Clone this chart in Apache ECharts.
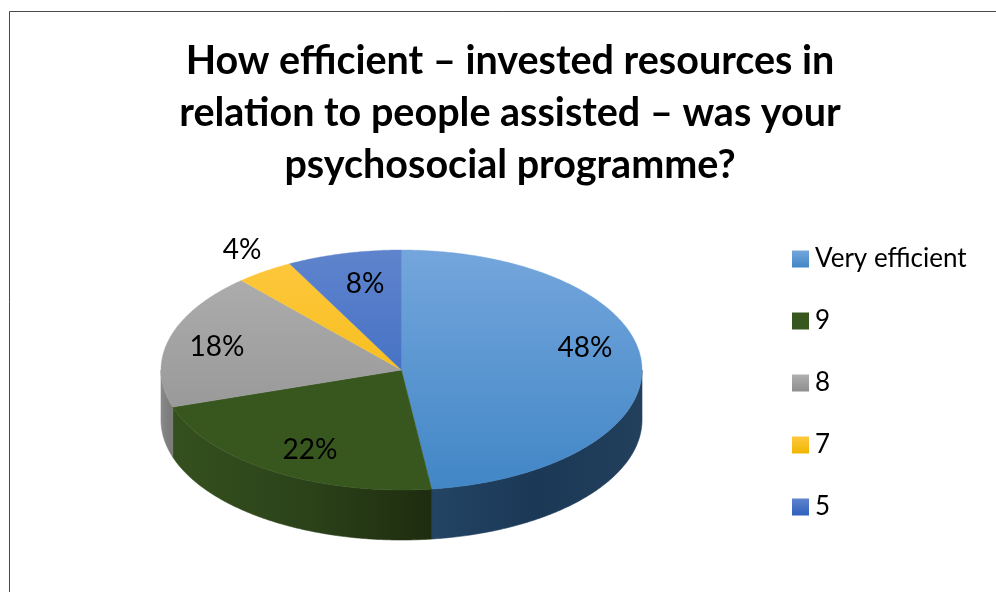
<!DOCTYPE html>
<html><head><meta charset="utf-8">
<style>html,body{margin:0;padding:0;background:#fff}#c{width:996px;height:592px}</style>
<script src="https://cdn.jsdelivr.net/npm/echarts@6/dist/echarts.min.js"></script>
</head><body><div id="c"></div>
<script>
const titleLines = ['How efficient – invested resources in','relation to people assisted – was your','psychosocial programme?'];
const categories = ['Very efficient','9','8','7','5'];
const values = [48, 22, 18.4, 3.9, 7.7];
const topColors = [['#74a6dc','#4186c6'],['#38571f','#38571f'],['#b0b0b0','#8e8e8e'],['#ffc83f','#eeb600'],['#5f84cd','#2f60bc']];
const wallColors = [['#234464','#1b3856','#223f5c'],['#35501e','#2c431a','#1e2c0f'],['#8a8a8a','#7f7f7f','#7a7a7a'],['#000','#000','#000'],['#000','#000','#000']];
const labelAnchors = [[585,348],[310,450],[217,347],[242,250],[365,284]];

const CX = 401.5, CY = 370, RX = 240.5, RY = 120, DEPTH = 50;
const total = values.reduce((a,b)=>a+b,0);
const rad = d => d*Math.PI/180;
const pt = (t,dy) => [CX + RX*Math.sin(rad(t)), CY - RY*Math.cos(rad(t)) + (dy||0)];
const starts = [];
values.reduce((acc,v,i)=>{ starts[i]=acc; return acc + v/total*360; },0);

function arc(a,b,dy){ const pts=[]; const n=Math.max(2,Math.ceil(Math.abs(b-a)*2)); for(let k=0;k<=n;k++) pts.push(pt(a+(b-a)*k/n,dy)); return pts; }
function grad(x1,y1,x2,y2,stops){ return {type:'linear',x:x1,y:y1,x2:x2,y2:y2,global:true,colorStops:stops.map((c,i)=>({offset:i/(stops.length-1),color:c}))}; }

function renderSlice(i){
  return function(params, api){
    const v = api.value(0);
    const a = starts[i], b = a + v/total*360;
    const children = [];
    const wa = Math.max(a,90), wb = Math.min(b,270);
    if (wb > wa) {
      const top = arc(wa,wb,0), bot = arc(wb,wa,DEPTH);
      const x1 = Math.min(top[0][0],top[top.length-1][0]), x2 = Math.max(top[0][0],top[top.length-1][0]);
      const fill = grad(x1,0,x2,0,wallColors[i]);
      children.push({type:'polygon',z2:1,shape:{points:top.concat(bot)},style:{fill:fill,stroke:fill,lineWidth:0.6}});
    }
    const fillTop = grad(0,CY-RY,0,CY+RY,topColors[i]);
    children.push({type:'polygon',z2:2,shape:{points:[[CX,CY]].concat(arc(a,b,0))},style:{fill:fillTop,stroke:fillTop,lineWidth:0.4}});
    children.push({type:'text',z2:3,x:labelAnchors[i][0],y:labelAnchors[i][1],style:{text:Math.round(v)+'%',fill:'#000',font:'28px Lato',align:'center',verticalAlign:'middle'}});
    return {type:'group',children:children};
  };
}

const chart = echarts.init(document.getElementById('c'),null,{renderer:'canvas'});
chart.setOption({
  animation:false,
  backgroundColor:'#fff',
  title:{text:titleLines.join('\n'),left:505,top:30,textAlign:'center',textStyle:{fontFamily:'Lato',fontWeight:'bold',fontSize:39.5,lineHeight:52,color:'#000'}},
  legend:{orient:'vertical',left:787,top:241,itemWidth:17,itemHeight:17,itemGap:36,selectedMode:false,icon:'rect',data:categories,
    textStyle:{fontFamily:'Lato',fontSize:26,color:'#000',padding:[0,0,0,1],lineHeight:19}},
  graphic:[{type:'polyline',silent:true,shape:{points:[[9.5,592],[9.5,11.5],[996,11.5]]},style:{stroke:'#4a4a4a',lineWidth:1,fill:null}}],
  series:categories.map((name,i)=>({
    type:'custom',name:name,coordinateSystem:'none',data:[[values[i]]],renderItem:renderSlice(i),silent:true,z:2,
    itemStyle:{color:{type:'linear',x:0,y:0,x2:0,y2:1,colorStops:[{offset:0,color:topColors[i][0]},{offset:1,color:topColors[i][1]}]}}
  }))
});
</script></body></html>
